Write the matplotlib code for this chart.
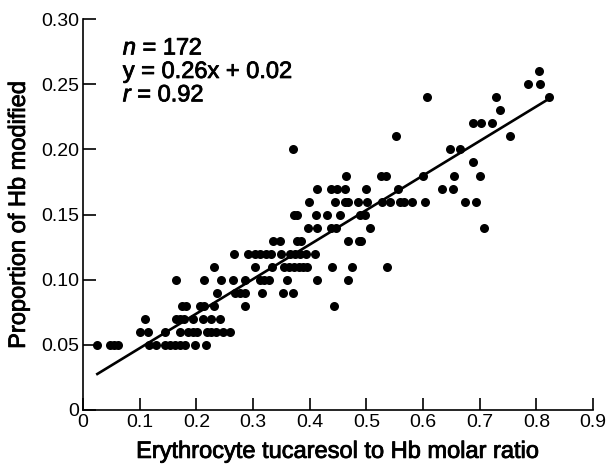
import numpy as np
import matplotlib
matplotlib.use("Agg")
import matplotlib.pyplot as plt
import matplotlib.patheffects as pe

plt.rcParams['font.family'] = ['Liberation Sans', 'DejaVu Sans']
plt.rcParams['mathtext.fontset'] = 'custom'
plt.rcParams['mathtext.it'] = 'Liberation Sans:italic'
plt.rcParams['mathtext.rm'] = 'Liberation Sans'

# erythrocyte tucaresol / Hb molar ratio, one line per level of Hb modified
x_ratio = [
    0.025, 0.047, 0.054, 0.062, 0.116, 0.129, 0.144, 0.153, 0.162, 0.171, 0.179, 0.197, 0.216,
    0.100, 0.115, 0.144, 0.171, 0.185, 0.194, 0.201, 0.218, 0.226, 0.235, 0.247, 0.260,
    0.109, 0.164, 0.171, 0.178, 0.194, 0.212, 0.226, 0.242,
    0.174, 0.181, 0.207, 0.213, 0.231, 0.285, 0.443,
    0.236, 0.268, 0.276, 0.285, 0.316, 0.352, 0.370,
    0.164, 0.213, 0.244, 0.265, 0.285, 0.312, 0.320, 0.328, 0.359, 0.412, 0.467,
    0.231, 0.304, 0.333, 0.355, 0.364, 0.373, 0.381, 0.388, 0.395, 0.440, 0.474, 0.536,
    0.266, 0.291, 0.304, 0.313, 0.322, 0.331, 0.350, 0.365, 0.374, 0.382, 0.393, 0.409,
    0.335, 0.347, 0.377, 0.385, 0.468, 0.487, 0.491,
    0.397, 0.412, 0.438, 0.447, 0.506, 0.708,
    0.372, 0.378, 0.411, 0.431, 0.454, 0.488, 0.497,
    0.399, 0.444, 0.462, 0.468, 0.485, 0.501, 0.527, 0.541, 0.559, 0.566, 0.581, 0.603, 0.674, 0.694,
    0.412, 0.437, 0.448, 0.462, 0.500, 0.556, 0.634, 0.653,
    0.464, 0.525, 0.535, 0.599, 0.654, 0.700,
    0.688,
    0.371, 0.647, 0.666,
    0.552, 0.753,
    0.688, 0.703, 0.722,
    0.735,
    0.607, 0.729, 0.822,
    0.785, 0.806,
    0.804,
]
prop_modified = (
    [0.05] * 13 + [0.06] * 12 + [0.07] * 8 + [0.08] * 7 + [0.09] * 7 +
    [0.10] * 11 + [0.11] * 12 + [0.12] * 12 + [0.13] * 7 + [0.14] * 6 +
    [0.15] * 7 + [0.16] * 14 + [0.17] * 8 + [0.18] * 6 + [0.19] * 1 +
    [0.20] * 3 + [0.21] * 2 + [0.22] * 3 + [0.23] * 1 + [0.24] * 3 +
    [0.25] * 2 + [0.26] * 1
)

# regression line as drawn
fit_slope = 0.265
fit_intercept = 0.021
fit_range = [0.025, 0.822]

x_ticks = [0, 0.1, 0.2, 0.3, 0.4, 0.5, 0.6, 0.7, 0.8, 0.9]
x_ticklabels = ['0', '0.1', '0.2', '0.3', '0.4', '0.5', '0.6', '0.7', '0.8', '0.9']
y_ticks = [0, 0.05, 0.10, 0.15, 0.20, 0.25, 0.30]
y_ticklabels = ['0', '0.05', '0.10', '0.15', '0.20', '0.25', '0.30']

fig = plt.figure(figsize=(6.07, 4.68), dpi=100)
ax = fig.add_axes([0.137, 0.124, 0.840, 0.835])

ax.plot(x_ratio, prop_modified, 'o', color='black', markersize=6.5, markeredgewidth=0, clip_on=False)
fx = np.array(fit_range)
ax.plot(fx, fit_slope * fx + fit_intercept, '-', color='black', linewidth=1.9)

ax.set_xlim(0, 0.9)
ax.set_ylim(0, 0.30)
ax.set_xticks(x_ticks)
ax.set_xticklabels(x_ticklabels)
ax.set_yticks(y_ticks)
ax.set_yticklabels(y_ticklabels)
ax.tick_params(direction='in', length=9, width=1.2, labelsize=14, pad=3)
for s in ['top', 'right']:
    ax.spines[s].set_visible(False)
for s in ['left', 'bottom']:
    ax.spines[s].set_linewidth(1.2)

# slightly heavier weight for labels and annotation, like the original
heavy = [pe.withStroke(linewidth=0.6, foreground='black')]

ax.set_xlabel('Erythrocyte tucaresol to Hb molar ratio', fontsize=17, labelpad=7, path_effects=heavy)
ax.set_ylabel('Proportion of Hb modified', fontsize=17, labelpad=8, path_effects=heavy)

ax.text(0.07, 0.2775, '$n$ = 172', fontsize=17, va='center', path_effects=heavy)
ax.text(0.07, 0.2595, 'y = 0.26x + 0.02', fontsize=17, va='center', path_effects=heavy)
ax.text(0.07, 0.2415, '$r$ = 0.92', fontsize=17, va='center', path_effects=heavy)

fig.savefig('out.png', dpi=100)
